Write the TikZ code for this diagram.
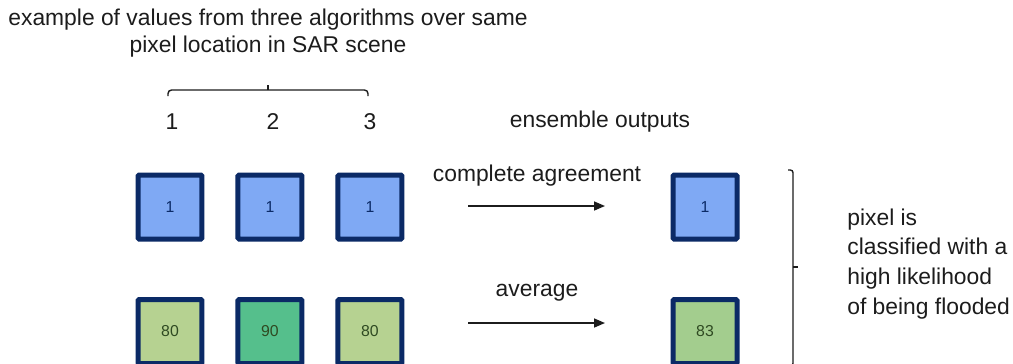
\documentclass[tikz,border=0pt]{standalone}
\usepackage{fontspec}
\setmainfont{Liberation Sans}
\usetikzlibrary{positioning, arrows.meta}
\definecolor{navy}{HTML}{0B2A66}
\definecolor{pixblue}{HTML}{7FA9F4}
\definecolor{pixlime}{HTML}{B6D291}
\definecolor{pixteal}{HTML}{55BF8C}
\definecolor{pixmid}{HTML}{A3CD8E}
\definecolor{numgreen}{HTML}{2F4A22}
\definecolor{ink}{HTML}{1C1C1C}

\begin{document}
\begin{tikzpicture}[x=0.02cm, y=-0.02cm, font=\fontsize{13}{15.5}\selectfont, text=ink,
        pixel/.style={draw=navy, line width=0.1cm, rounded corners=0.6pt, minimum size=1.28cm, inner sep=0pt, font=\fontsize{9}{10}\selectfont},
        floodpix/.style={pixel, fill=pixblue, text=navy},
        valpix/.style={pixel, text=numgreen},
        flow/.style={draw=ink, line width=0.9pt, -{Triangle[length=0.22cm, width=0.18cm]}},
        brace/.style={draw=ink, line width=0.8pt, rounded corners=2pt},
        node distance=0.62cm]
        \clip (0,0) rectangle (1013,363);

        \node[align=center] (title) at (268,33) {example of values from three algorithms over same\\pixel location in SAR scene};
        \draw[brace] (168,96) |- (368,90) -- (368,96);
        \draw[draw=ink, line width=0.8pt] (268,90) -- (268,85);
        \node (alg1) at (172,122) {1};
        \node (alg2) at (273,122) {2};
        \node (alg3) at (370,122) {3};
        \node (ens) at (600,122) {ensemble outputs};

        \node[floodpix] (a1) at (170,207) {1};
        \node[floodpix, right = of a1] (a2) {1};
        \node[floodpix, right = of a2] (a3) {1};
        \node[floodpix] (e1) at (705,207) {1};

        \node[valpix, fill=pixlime] (b1) at (170,331.5) {80};
        \node[valpix, fill=pixteal, right = of b1] (b2) {90};
        \node[valpix, fill=pixlime, right = of b2] (b3) {80};
        \node[valpix, fill=pixmid] (e2) at (705,331.5) {83};

        \coordinate (s1) at (468,206);
        \coordinate (t1) at (605,206);
        \coordinate (s2) at (468,323);
        \coordinate (t2) at (605,323);
        \draw[flow] (s1) -- (t1);
        \draw[flow] (s2) -- (t2);
        \node (agree) at (537,176) {complete agreement};
        \node (avg) at (537,293) {average};

        \draw[brace, rounded corners=1.5pt] (788,170) -| (793,366) -- (788,366);
        \draw[draw=ink, line width=0.8pt] (793,267) -- (798,267);
        \node[anchor=west, align=left, inner sep=0pt, font=\fontsize{13}{17}\selectfont] (verdict) at (847,264) {pixel is\\classified with a\\high likelihood\\of being flooded};
\end{tikzpicture}
\end{document}
